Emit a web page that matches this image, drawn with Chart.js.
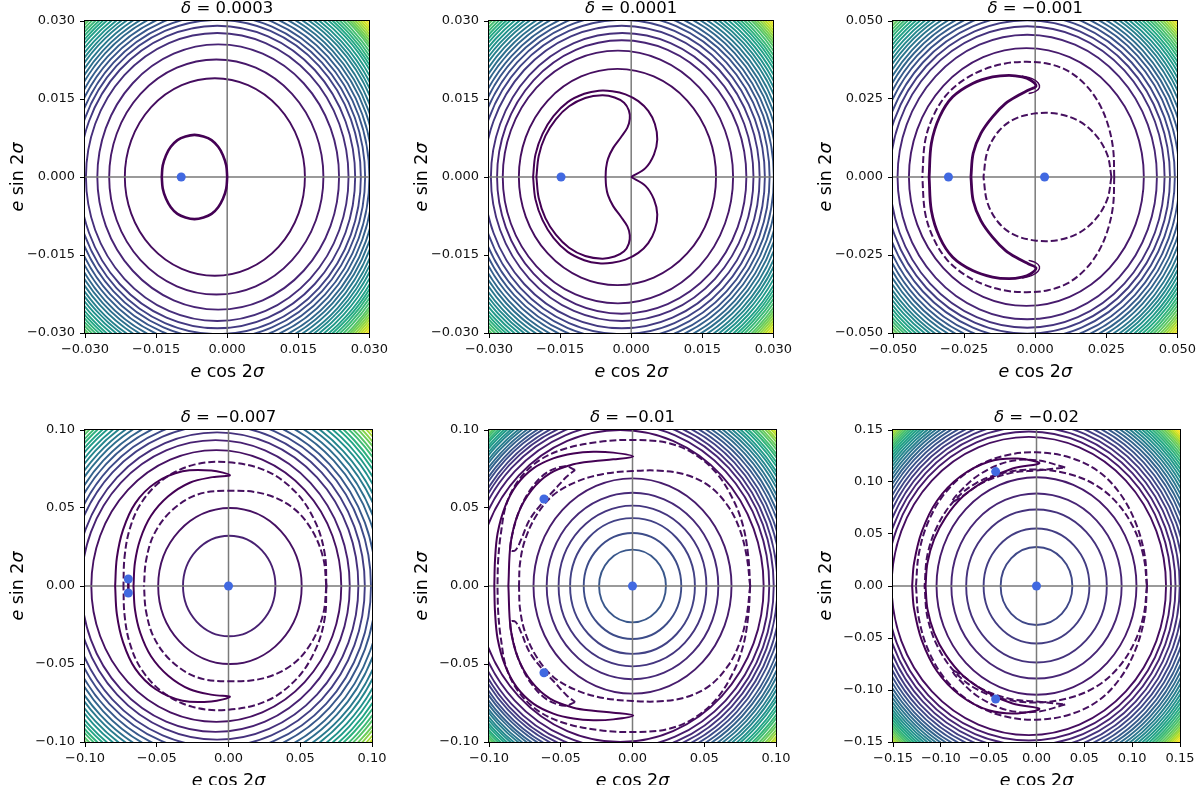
<!DOCTYPE html>
<html>
<head>
<meta charset="utf-8">
<script src="https://cdn.jsdelivr.net/npm/chart.js@4.4.1/dist/chart.umd.min.js"></script>
<style>
  body { margin: 0; background: #fff; width: 1200px; height: 785px; overflow: hidden; position: relative; }
  canvas { position: absolute; }
</style>
</head>
<body>
<canvas id="c1" width="392" height="400" style="left:0px;top:0px"></canvas>
<canvas id="c2" width="392" height="400" style="left:404px;top:0px"></canvas>
<canvas id="c3" width="392" height="400" style="left:808px;top:0px"></canvas>
<canvas id="c4" width="392" height="400" style="left:0px;top:409px"></canvas>
<canvas id="c5" width="392" height="400" style="left:404px;top:409px"></canvas>
<canvas id="c6" width="392" height="400" style="left:808px;top:409px"></canvas>
<script>
// ---- panel titles (delta) and tick values ----
const deltas = [0.0003, 0.0001, -0.001, -0.007, -0.01, -0.02];
const ticksA = [-0.03, -0.015, 0, 0.015, 0.03];
const ticksB = [-0.05, -0.025, 0, 0.025, 0.05];
const ticksC = [-0.1, -0.05, 0, 0.05, 0.1];
const ticksD = [-0.15, -0.1, -0.05, 0, 0.05, 0.1, 0.15];

// ---- contour rings: [centre x, radius], with contour level index ----
const p1Rings = [[-0.0026,0.0190],[-0.0023,0.0226],[-0.0019,0.0255],[-0.0021,0.0277],[-0.0021,0.0291],[-0.002,0.0302],[-0.002,0.0311],[-0.002,0.0320],[-0.002,0.0328],[-0.002,0.0336],[-0.002,0.0343],[-0.002,0.0350],[-0.002,0.0357],[-0.002,0.0363],[-0.002,0.0369],[-0.002,0.0375],[-0.002,0.0381],[-0.002,0.0386],[-0.002,0.0391],[-0.002,0.0396],[-0.002,0.0401],[-0.002,0.0406],[-0.002,0.0410],[-0.002,0.0414],[-0.002,0.0418],[-0.002,0.0422],[-0.002,0.0426],[-0.002,0.0430],[-0.002,0.0434],[-0.002,0.0438]];
const p1Levels = [1,2,3,4,5,6,7,8,9,10,11,12,13,14,15,16,17,18,19,20,21,22,23,24,25,26,27,28,29,30];

const p2Rings = [[-0.0029,0.0208],[-0.0028,0.0243],[-0.002,0.0263],[-0.0019,0.0277],[-0.002,0.0291],[-0.002,0.0302],[-0.002,0.0312],[-0.002,0.0321],[-0.002,0.0329],[-0.002,0.0337],[-0.002,0.0344],[-0.002,0.0351],[-0.002,0.0358],[-0.002,0.0364],[-0.002,0.0370],[-0.002,0.0376],[-0.002,0.0382],[-0.002,0.0387],[-0.002,0.0392],[-0.002,0.0397],[-0.002,0.0402],[-0.002,0.0407],[-0.002,0.0411],[-0.002,0.0415],[-0.002,0.0419],[-0.002,0.0423],[-0.002,0.0427],[-0.002,0.0431],[-0.002,0.0435],[-0.002,0.0439]];
const p2Levels = [1,2,3,4,5,6,7,8,9,10,11,12,13,14,15,16,17,18,19,20,21,22,23,24,25,26,27,28,29,30];

const p3Rings = [[-0.0031,0.0413],[-0.0028,0.0456],[-0.0028,0.0483],[-0.0028,0.0502],[-0.0028,0.0519],[-0.0028,0.0535],[-0.0028,0.0549],[-0.0028,0.0562],[-0.0028,0.0574],[-0.0028,0.0586],[-0.0028,0.0597],[-0.0028,0.0607],[-0.0028,0.0617],[-0.0028,0.0627],[-0.0028,0.0636],[-0.0028,0.0645],[-0.0028,0.0654],[-0.0028,0.0662],[-0.0028,0.0670],[-0.0028,0.0678],[-0.0028,0.0686],[-0.0028,0.0693],[-0.0028,0.0700],[-0.0028,0.0707],[-0.0028,0.0714],[-0.0028,0.0721],[-0.0028,0.0727]];
const p3Levels = [2,3,4,5,6,7,8,9,10,11,12,13,14,15,16,17,18,19,20,21,22,23,24,25,26,27,28];

const p4Rings = [[0.0005,0.0322],[0.001,0.0500],[-0.0085,0.0871],[-0.009,0.0935],[-0.008,0.0985],[-0.008,0.1030],[-0.0075,0.1068],[-0.0075,0.1103],[-0.007,0.1136],[-0.007,0.1167],[-0.0065,0.1196],[-0.0065,0.1223],[-0.006,0.1249],[-0.006,0.1274],[-0.0055,0.1297],[-0.0055,0.1319],[-0.005,0.1340],[-0.005,0.1360],[-0.0045,0.1380],[-0.0045,0.1399],[-0.004,0.1417],[-0.004,0.1435],[-0.0035,0.1452],[-0.0035,0.1469]];
const p4Levels = [2,1,1,2,3,4,5,6,7,8,9,10,11,12,13,14,15,16,17,18,19,20,21,22];

const p5Rings = [[0,0.0233],[0,0.0340],[0,0.0435],[0,0.0515],[0,0.0598],[0,0.0690],[-0.0086,0.1000],[-0.0086,0.1039],[-0.0086,0.1070],[-0.0085,0.1095],[-0.008,0.1118],[-0.008,0.1141],[-0.0075,0.1162],[-0.0075,0.1183],[-0.007,0.1203],[-0.007,0.1222],[-0.0065,0.1240],[-0.0065,0.1258],[-0.006,0.1275],[-0.006,0.1291],[-0.0055,0.1307],[-0.0055,0.1322],[-0.005,0.1337],[-0.005,0.1351],[-0.0045,0.1365],[-0.0045,0.1379],[-0.004,0.1392],[-0.004,0.1405],[-0.0035,0.1417],[-0.0035,0.1429],[-0.003,0.1441],[-0.003,0.1452]];
const p5Levels = [7,6,5,4,3,2,1,2,3,4,5,6,7,8,9,10,11,12,13,14,15,16,17,18,19,20,21,22,23,24,25,26];

const p6Rings = [[0,0.0375],[0,0.0553],[0,0.0735],[0,0.0890],[0,0.1045],[-0.008,0.1434],[-0.008,0.1486],[-0.0078,0.1531],[-0.0076,0.1573],[-0.0074,0.1612],[-0.0072,0.1648],[-0.007,0.1682],[-0.0068,0.1714],[-0.0066,0.1744],[-0.0064,0.1773],[-0.0062,0.1800],[-0.006,0.1826],[-0.0058,0.1851],[-0.0056,0.1875],[-0.0054,0.1898],[-0.0052,0.1920],[-0.005,0.1941],[-0.0048,0.1962],[-0.0046,0.1982],[-0.0044,0.2001],[-0.0042,0.2020],[-0.004,0.2038],[-0.004,0.2056],[-0.004,0.2073],[-0.004,0.2090],[-0.004,0.2106],[-0.004,0.2122],[-0.004,0.2137]];
const p6Levels = [6,5,4,3,2,1,2,3,4,5,6,7,8,9,10,11,12,13,14,15,16,17,18,19,20,21,22,23,24,25,26,27,28];

// ---- separatrices and special curves (upper / lower halves) ----
const p1OvalTop = [[0,0],[-0.0002,0.0022],[-0.0009,0.0042],[-0.0019,0.0058],[-0.0033,0.0071],[-0.0050,0.0078],[-0.0069,0.0081],[-0.0088,0.0078],[-0.0105,0.0071],[-0.0119,0.0058],[-0.0129,0.0042],[-0.0136,0.0022],[-0.0138,0]];
const p1OvalBot = [[0,0],[-0.0002,-0.0022],[-0.0009,-0.0042],[-0.0019,-0.0058],[-0.0033,-0.0071],[-0.0050,-0.0078],[-0.0069,-0.0081],[-0.0088,-0.0078],[-0.0105,-0.0071],[-0.0119,-0.0058],[-0.0129,-0.0042],[-0.0136,-0.0022],[-0.0138,0]];

const p2OuterTop = [[0,0],[0.0030,0.0017],[0.0048,0.0043],[0.0055,0.0072],[0.0050,0.0102],[0.0036,0.0127],[0.0015,0.0146],[-0.0012,0.0159],[-0.0040,0.0165],[-0.0068,0.0166],[-0.0099,0.0160],[-0.0134,0.0144],[-0.0164,0.0117],[-0.0187,0.0083],[-0.0202,0.0043],[-0.0207,0]];
const p2OuterBot = [[0,0],[0.0030,-0.0017],[0.0048,-0.0043],[0.0055,-0.0072],[0.0050,-0.0102],[0.0036,-0.0127],[0.0015,-0.0146],[-0.0012,-0.0159],[-0.0040,-0.0165],[-0.0068,-0.0166],[-0.0099,-0.0160],[-0.0134,-0.0144],[-0.0164,-0.0117],[-0.0187,-0.0083],[-0.0202,-0.0043],[-0.0207,0]];
const p2InnerTop = [[-0.0054,0],[-0.0053,0.0017],[-0.0049,0.0035],[-0.0038,0.0056],[-0.0022,0.0076],[-0.0008,0.0095],[-0.0003,0.0112],[-0.0005,0.0128],[-0.0015,0.0143],[-0.0035,0.0153],[-0.0061,0.0157],[-0.0097,0.0152],[-0.0131,0.0136],[-0.0159,0.0111],[-0.0181,0.0079],[-0.0195,0.0041],[-0.0200,0]];
const p2InnerBot = [[-0.0054,0],[-0.0053,-0.0017],[-0.0049,-0.0035],[-0.0038,-0.0056],[-0.0022,-0.0076],[-0.0008,-0.0095],[-0.0003,-0.0112],[-0.0005,-0.0128],[-0.0015,-0.0143],[-0.0035,-0.0153],[-0.0061,-0.0157],[-0.0097,-0.0152],[-0.0131,-0.0136],[-0.0159,-0.0111],[-0.0181,-0.0079],[-0.0195,-0.0041],[-0.0200,0]];

const p3CrescentTop = [[-0.0373,0],[-0.0365,0.0108],[-0.0336,0.0193],[-0.0290,0.0257],[-0.0220,0.0300],[-0.0150,0.0321],[-0.0092,0.0326],[-0.0046,0.0321],[-0.0017,0.0311],[0.0003,0.0292],[-0.0023,0.0279],[-0.0057,0.0263],[-0.0104,0.0236],[-0.0150,0.0193],[-0.0191,0.0140],[-0.0218,0.0076],[-0.0226,0]];
const p3CrescentBot = [[-0.0373,0],[-0.0365,-0.0108],[-0.0336,-0.0193],[-0.0290,-0.0257],[-0.0220,-0.0300],[-0.0150,-0.0321],[-0.0092,-0.0326],[-0.0046,-0.0321],[-0.0017,-0.0311],[0.0003,-0.0292],[-0.0023,-0.0279],[-0.0057,-0.0263],[-0.0104,-0.0236],[-0.0150,-0.0193],[-0.0191,-0.0140],[-0.0218,-0.0076],[-0.0226,0]];
const p3TipTop = [[-0.0046,0.0324],[-0.0011,0.0315],[0.0010,0.0302],[0.0015,0.0287],[0.0001,0.0274],[-0.0023,0.0267]];
const p3TipBot = [[-0.0046,-0.0324],[-0.0011,-0.0315],[0.0010,-0.0302],[0.0015,-0.0287],[0.0001,-0.0274],[-0.0023,-0.0267]];
const p3DashOuterTop = [[0.0278,0],[0.0274,0.0090],[0.0255,0.0170],[0.0222,0.0240],[0.0175,0.0297],[0.0115,0.0340],[0.0045,0.0363],[-0.0030,0.0369],[-0.0105,0.0364],[-0.0180,0.0345],[-0.0250,0.0312],[-0.0312,0.0263],[-0.0358,0.0196],[-0.0387,0.0115],[-0.0397,0]];
const p3DashOuterBot = [[0.0278,0],[0.0274,-0.0090],[0.0255,-0.0170],[0.0222,-0.0240],[0.0175,-0.0297],[0.0115,-0.0340],[0.0045,-0.0363],[-0.0030,-0.0369],[-0.0105,-0.0364],[-0.0180,-0.0345],[-0.0250,-0.0312],[-0.0312,-0.0263],[-0.0358,-0.0196],[-0.0387,-0.0115],[-0.0397,0]];
const p3DashInnerTop = [[0.0268,0],[0.0254,0.0070],[0.0215,0.0132],[0.0156,0.0178],[0.0082,0.0202],[0.0004,0.0204],[-0.0075,0.0185],[-0.0130,0.0145],[-0.0168,0.0082],[-0.0182,0]];
const p3DashInnerBot = [[0.0268,0],[0.0254,-0.0070],[0.0215,-0.0132],[0.0156,-0.0178],[0.0082,-0.0202],[0.0004,-0.0204],[-0.0075,-0.0185],[-0.0130,-0.0145],[-0.0168,-0.0082],[-0.0182,0]];

const p4CrescentTop = [[-0.0790,0],[-0.0778,0.0180],[-0.0735,0.0360],[-0.0650,0.0530],[-0.0510,0.0660],[-0.0320,0.0735],[-0.0120,0.0740],[0.0010,0.0710],[-0.0110,0.0698],[-0.0270,0.0662],[-0.0420,0.0575],[-0.0540,0.0450],[-0.0615,0.0300],[-0.0652,0.0150],[-0.0662,0]];
const p4CrescentBot = [[-0.0790,0],[-0.0778,-0.0180],[-0.0735,-0.0360],[-0.0650,-0.0530],[-0.0510,-0.0660],[-0.0320,-0.0735],[-0.0120,-0.0740],[0.0010,-0.0710],[-0.0110,-0.0698],[-0.0270,-0.0662],[-0.0420,-0.0575],[-0.0540,-0.0450],[-0.0615,-0.0300],[-0.0652,-0.0150],[-0.0662,0]];
const p4DashOuterTop = [[0.0682,0],[0.0672,0.0200],[0.0610,0.0400],[0.0480,0.0590],[0.0270,0.0735],[0,0.0793],[-0.0250,0.0775],[-0.0460,0.0680],[-0.0610,0.0530],[-0.0690,0.0360],[-0.0725,0.0180],[-0.0732,0]];
const p4DashOuterBot = [[0.0682,0],[0.0672,-0.0200],[0.0610,-0.0400],[0.0480,-0.0590],[0.0270,-0.0735],[0,-0.0793],[-0.0250,-0.0775],[-0.0460,-0.0680],[-0.0610,-0.0530],[-0.0690,-0.0360],[-0.0725,-0.0180],[-0.0732,0]];
const p4DashInnerTop = [[0.0682,0],[0.0660,0.0180],[0.0580,0.0360],[0.0450,0.0500],[0.0250,0.0590],[0,0.0611],[-0.0220,0.0585],[-0.0400,0.0480],[-0.0520,0.0330],[-0.0575,0.0160],[-0.0589,0]];
const p4DashInnerBot = [[0.0682,0],[0.0660,-0.0180],[0.0580,-0.0360],[0.0450,-0.0500],[0.0250,-0.0590],[0,-0.0611],[-0.0220,-0.0585],[-0.0400,-0.0480],[-0.0520,-0.0330],[-0.0575,-0.0160],[-0.0589,0]];
const p4Link = [[-0.0698,0.0045],[-0.0698,-0.0045]];

const p5CrescentTop = [[-0.0963,0],[-0.0958,0.0167],[-0.0940,0.0338],[-0.0888,0.0509],[-0.0807,0.0648],[-0.0691,0.0754],[-0.0552,0.0818],[-0.0412,0.0850],[-0.0273,0.0861],[-0.0134,0.0855],[0.0005,0.0830],[-0.0134,0.0812],[-0.0273,0.0800],[-0.0412,0.0780],[-0.0575,0.0722],[-0.0703,0.0615],[-0.0796,0.0466],[-0.0849,0.0274],[-0.0865,0]];
const p5CrescentBot = [[-0.0963,0],[-0.0958,-0.0167],[-0.0940,-0.0338],[-0.0888,-0.0509],[-0.0807,-0.0648],[-0.0691,-0.0754],[-0.0552,-0.0818],[-0.0412,-0.0850],[-0.0273,-0.0861],[-0.0134,-0.0855],[0.0005,-0.0830],[-0.0134,-0.0812],[-0.0273,-0.0800],[-0.0412,-0.0780],[-0.0575,-0.0722],[-0.0703,-0.0615],[-0.0796,-0.0466],[-0.0849,-0.0274],[-0.0865,0]];
const p5DashOuterTop = [[0.0820,0],[0.0807,0.0188],[0.0772,0.0380],[0.0703,0.0551],[0.0587,0.0722],[0.0424,0.0850],[0.0238,0.0919],[0,0.0936],[-0.0226,0.0925],[-0.0459,0.0883],[-0.0645,0.0808],[-0.0784,0.0690],[-0.0877,0.0530],[-0.0917,0.0338],[-0.0936,0.0167],[-0.0941,0]];
const p5DashOuterBot = [[0.0820,0],[0.0807,-0.0188],[0.0772,-0.0380],[0.0703,-0.0551],[0.0587,-0.0722],[0.0424,-0.0850],[0.0238,-0.0919],[0,-0.0936],[-0.0226,-0.0925],[-0.0459,-0.0883],[-0.0645,-0.0808],[-0.0784,-0.0690],[-0.0877,-0.0530],[-0.0917,-0.0338],[-0.0936,-0.0167],[-0.0941,0]];
const p5DashInnerTop = [[0.0820,0],[0.0796,0.0188],[0.0749,0.0359],[0.0668,0.0509],[0.0540,0.0637],[0.0377,0.0712],[0.0192,0.0739],[0,0.0737],[-0.0203,0.0718],[-0.0389,0.0669],[-0.0552,0.0583],[-0.0668,0.0455],[-0.0749,0.0295],[-0.0784,0.0145],[-0.0791,0]];
const p5DashInnerBot = [[0.0820,0],[0.0796,-0.0188],[0.0749,-0.0359],[0.0668,-0.0509],[0.0540,-0.0637],[0.0377,-0.0712],[0.0192,-0.0739],[0,-0.0737],[-0.0203,-0.0718],[-0.0389,-0.0669],[-0.0552,-0.0583],[-0.0668,-0.0455],[-0.0749,-0.0295],[-0.0784,-0.0145],[-0.0791,0]];
const p5LoopTop = [[-0.0400,0.0744],[-0.0470,0.0768],[-0.0600,0.0725],[-0.0710,0.0620],[-0.0790,0.0480],[-0.0835,0.0340],[-0.0850,0.0230],[-0.0815,0.0230],[-0.0775,0.0300],[-0.0720,0.0420],[-0.0640,0.0520],[-0.0540,0.0620],[-0.0460,0.0700],[-0.0400,0.0744]];
const p5LoopBot = [[-0.0400,-0.0744],[-0.0470,-0.0768],[-0.0600,-0.0725],[-0.0710,-0.0620],[-0.0790,-0.0480],[-0.0835,-0.0340],[-0.0850,-0.0230],[-0.0815,-0.0230],[-0.0775,-0.0300],[-0.0720,-0.0420],[-0.0640,-0.0520],[-0.0540,-0.0620],[-0.0460,-0.0700],[-0.0400,-0.0744]];

const p6CrescentTop = [[-0.1300,0],[-0.1280,0.0220],[-0.1200,0.0520],[-0.1040,0.0820],[-0.0800,0.1050],[-0.0500,0.1195],[-0.0200,0.1225],[0.0030,0.1180],[-0.0250,0.1130],[-0.0520,0.1020],[-0.0770,0.0860],[-0.0950,0.0660],[-0.1070,0.0450],[-0.1140,0.0220],[-0.1160,0]];
const p6CrescentBot = [[-0.1300,0],[-0.1280,-0.0220],[-0.1200,-0.0520],[-0.1040,-0.0820],[-0.0800,-0.1050],[-0.0500,-0.1195],[-0.0200,-0.1225],[0.0030,-0.1180],[-0.0250,-0.1130],[-0.0520,-0.1020],[-0.0770,-0.0860],[-0.0950,-0.0660],[-0.1070,-0.0450],[-0.1140,-0.0220],[-0.1160,0]];
const p6DashATop = [[0.1155,0],[0.1130,0.0300],[0.1040,0.0600],[0.0880,0.0880],[0.0650,0.1100],[0.0350,0.1235],[0,0.1285],[-0.0350,0.1250],[-0.0680,0.1120],[-0.0950,0.0900],[-0.1130,0.0620],[-0.1230,0.0310],[-0.1260,0]];
const p6DashABot = [[0.1155,0],[0.1130,-0.0300],[0.1040,-0.0600],[0.0880,-0.0880],[0.0650,-0.1100],[0.0350,-0.1235],[0,-0.1285],[-0.0350,-0.1250],[-0.0680,-0.1120],[-0.0950,-0.0900],[-0.1130,-0.0620],[-0.1230,-0.0310],[-0.1260,0]];
const p6DashBTop = [[0.1155,0],[0.1120,0.0280],[0.1020,0.0550],[0.0850,0.0790],[0.0620,0.0970],[0.0330,0.1080],[0,0.1120],[-0.0330,0.1090],[-0.0630,0.0990],[-0.0870,0.0810],[-0.1040,0.0570],[-0.1140,0.0300],[-0.1170,0]];
const p6DashBBot = [[0.1155,0],[0.1120,-0.0280],[0.1020,-0.0550],[0.0850,-0.0790],[0.0620,-0.0970],[0.0330,-0.1080],[0,-0.1120],[-0.0330,-0.1090],[-0.0630,-0.0990],[-0.0870,-0.0810],[-0.1040,-0.0570],[-0.1140,-0.0300],[-0.1170,0]];
const p6LoopTop = [[0.0300,0.1140],[0,0.1210],[-0.0300,0.1195],[-0.0600,0.1070],[-0.0830,0.0880],[-0.0880,0.0810],[-0.0780,0.0860],[-0.0550,0.1000],[-0.0250,0.1090],[0,0.1110],[0.0300,0.1140]];
const p6LoopBot = [[0.0300,-0.1140],[0,-0.1210],[-0.0300,-0.1195],[-0.0600,-0.1070],[-0.0830,-0.0880],[-0.0880,-0.0810],[-0.0780,-0.0860],[-0.0550,-0.1000],[-0.0250,-0.1090],[0,-0.1110],[0.0300,-0.1140]];

// ---- equilibrium points ----
const p1Dots = [[-0.0097,0]];
const p2Dots = [[-0.0148,0]];
const p3Dots = [[-0.0305,0],[0.0033,0]];
const p4Dots = [[-0.0698,0.0045],[-0.0698,-0.0045],[0,0]];
const p5Dots = [[-0.0617,0.0558],[-0.0617,-0.0556],[0,0]];
const p6Dots = [[-0.0427,0.1100],[-0.0427,-0.1087],[0,0]];

// viridis colour map
const VIRIDIS = ['#440154','#482475','#414487','#355f8d','#2a788e','#21918c','#22a884','#44bf70','#7ad151','#bddf26','#fde725'];
function viridis(t) {
    t = Math.max(0, Math.min(1, t));
    const f = t * (VIRIDIS.length - 1);
    const i = Math.min(Math.floor(f), VIRIDIS.length - 2);
    const u = f - i;
    const a = VIRIDIS[i], b = VIRIDIS[i + 1];
    const c = [1, 3, 5].map(k => {
        const va = parseInt(a.substr(k, 2), 16), vb = parseInt(b.substr(k, 2), 16);
        return Math.round(va + (vb - va) * u);
    });
    return 'rgb(' + c.join(',') + ')';
}

function fmtTick(v, dec) {
    return (v < -1e-12 ? '\u2212' : '') + Math.abs(v).toFixed(dec);
}

// draw a run of text pieces, some italic (mathtext look)
function drawMath(ctx, parts, size, x, y) {
    let total = 0;
    parts.forEach(p => {
        ctx.font = (p[1] ? 'italic ' : '') + size + 'px "DejaVu Sans"';
        p.w = ctx.measureText(p[0]).width;
        total += p.w;
    });
    let cur = x - total / 2;
    parts.forEach(p => {
        ctx.font = (p[1] ? 'italic ' : '') + size + 'px "DejaVu Sans"';
        ctx.fillText(p[0], cur, y);
        cur += p.w;
    });
}

const SEP = '#440154';
const DASHC = '#46105f';

const panels = [
    { el: 'c1', lim: 0.03, ticks: ticksA, dec: 3, rings: p1Rings, levels: p1Levels, dots: p1Dots,
      curves: [ { pts: p1OvalTop, w: 2.6 }, { pts: p1OvalBot, w: 2.6 } ] },
    { el: 'c2', lim: 0.03, ticks: ticksA, dec: 3, rings: p2Rings, levels: p2Levels, dots: p2Dots,
      curves: [ { pts: p2OuterTop, w: 2 }, { pts: p2OuterBot, w: 2 }, { pts: p2InnerTop, w: 2 }, { pts: p2InnerBot, w: 2 } ] },
    { el: 'c3', lim: 0.05, ticks: ticksB, dec: 3, rings: p3Rings, levels: p3Levels, dots: p3Dots,
      curves: [ { pts: p3CrescentTop, w: 2.8 }, { pts: p3CrescentBot, w: 2.8 }, { pts: p3TipTop, w: 1.4 }, { pts: p3TipBot, w: 1.4 },
                { pts: p3DashOuterTop, w: 2, dash: true }, { pts: p3DashOuterBot, w: 2, dash: true },
                { pts: p3DashInnerTop, w: 2, dash: true }, { pts: p3DashInnerBot, w: 2, dash: true } ] },
    { el: 'c4', lim: 0.1, ticks: ticksC, dec: 2, rings: p4Rings, levels: p4Levels, dots: p4Dots,
      curves: [ { pts: p4CrescentTop, w: 2 }, { pts: p4CrescentBot, w: 2 }, { pts: p4Link, w: 2.5 },
                { pts: p4DashOuterTop, w: 2, dash: true }, { pts: p4DashOuterBot, w: 2, dash: true },
                { pts: p4DashInnerTop, w: 2, dash: true }, { pts: p4DashInnerBot, w: 2, dash: true } ] },
    { el: 'c5', lim: 0.1, ticks: ticksC, dec: 2, rings: p5Rings, levels: p5Levels, dots: p5Dots,
      curves: [ { pts: p5CrescentTop, w: 2 }, { pts: p5CrescentBot, w: 2 },
                { pts: p5DashOuterTop, w: 2, dash: true }, { pts: p5DashOuterBot, w: 2, dash: true },
                { pts: p5DashInnerTop, w: 2, dash: true }, { pts: p5DashInnerBot, w: 2, dash: true },
                { pts: p5LoopTop, w: 2, dash: true }, { pts: p5LoopBot, w: 2, dash: true } ] },
    { el: 'c6', lim: 0.15, ticks: ticksD, dec: 2, rings: p6Rings, levels: p6Levels, dots: p6Dots,
      curves: [ { pts: p6CrescentTop, w: 2 }, { pts: p6CrescentBot, w: 2 },
                { pts: p6DashATop, w: 2, dash: true }, { pts: p6DashABot, w: 2, dash: true },
                { pts: p6DashBTop, w: 2, dash: true }, { pts: p6DashBBot, w: 2, dash: true },
                { pts: p6LoopTop, w: 2, dash: true }, { pts: p6LoopBot, w: 2, dash: true } ] }
];

// per-panel plugin: contour rings, zero lines, frame and math labels
function panelPlugin(def, delta) {
    const maxLevel = Math.max.apply(null, def.levels);
    return {
        id: 'panel_' + def.el,
        beforeDatasetsDraw(chart) {
            const { ctx, chartArea: a, scales: { x, y } } = chart;
            ctx.save();
            ctx.beginPath();
            ctx.rect(a.left, a.top, a.right - a.left, a.bottom - a.top);
            ctx.clip();
            ctx.lineWidth = 1.9;
            def.rings.forEach((ring, i) => {
                const cx = x.getPixelForValue(ring[0]);
                const cy = y.getPixelForValue(0);
                const rx = x.getPixelForValue(ring[0] + ring[1]) - cx;
                const ry = cy - y.getPixelForValue(ring[1]);
                ctx.strokeStyle = viridis(def.levels[i] / maxLevel);
                ctx.beginPath();
                ctx.ellipse(cx, cy, rx, ry, 0, 0, Math.PI * 2);
                ctx.stroke();
            });
            // grey lines through the origin
            const x0 = x.getPixelForValue(0), y0 = y.getPixelForValue(0);
            ctx.strokeStyle = '#7a7a7a';
            ctx.lineWidth = 1.5;
            ctx.beginPath();
            ctx.moveTo(x0, a.top); ctx.lineTo(x0, a.bottom);
            ctx.moveTo(a.left, y0); ctx.lineTo(a.right, y0);
            ctx.stroke();
            ctx.restore();
        },
        afterDatasetsDraw(chart) {
            const { ctx, chartArea: a } = chart;
            ctx.save();
            ctx.strokeStyle = '#000';
            ctx.lineWidth = 1;
            ctx.strokeRect(Math.round(a.left) - 0.5, Math.round(a.top) - 0.5, Math.round(a.right - a.left) + 1, Math.round(a.bottom - a.top) + 1);
            ctx.restore();
        },
        afterDraw(chart) {
            const { ctx, chartArea: a } = chart;
            const mid = (a.left + a.right) / 2;
            ctx.save();
            ctx.fillStyle = '#000';
            ctx.textBaseline = 'alphabetic';
            drawMath(ctx, [['\u03b4', true], [' = ' + String(delta).replace('-', '\u2212'), false]], 16.5, mid, a.top - 8);
            drawMath(ctx, [['e', true], [' cos 2', false], ['\u03c3', true]], 17.5, mid, a.bottom + 44);
            ctx.translate(a.left - 62, (a.top + a.bottom) / 2);
            ctx.rotate(-Math.PI / 2);
            drawMath(ctx, [['e', true], [' sin 2', false], ['\u03c3', true]], 17.5, 0, 0);
            ctx.restore();
        }
    };
}

function toXY(pts) {
    return pts.map(p => ({ x: p[0], y: p[1] }));
}

function axisOptions(def, isX) {
    return {
        type: 'linear',
        position: isX ? 'bottom' : 'left',
        min: -def.lim,
        max: def.lim,
        afterBuildTicks: scale => { scale.ticks = def.ticks.map(v => ({ value: v })); },
        afterFit: scale => { if (isX) scale.height = 67; else scale.width = 85; },
        ticks: {
            autoSkip: false,
            maxRotation: 0,
            padding: isX ? 4 : 5,
            color: '#111',
            font: { family: 'DejaVu Sans', size: 13 },
            callback: v => fmtTick(v, def.dec)
        },
        grid: { drawOnChartArea: false, drawTicks: true, tickLength: 5, tickColor: '#000', tickWidth: 1 },
        border: { display: false }
    };
}

panels.forEach((def, k) => {
    const datasets = [];
    // equilibrium points on top
    datasets.push({
        data: toXY(def.dots),
        pointRadius: 4.5,
        pointBackgroundColor: '#4169e1',
        pointBorderWidth: 0,
        showLine: false
    });
    def.curves.forEach(c => {
        datasets.push({
            data: toXY(c.pts),
            showLine: true,
            pointRadius: 0,
            borderColor: c.dash ? DASHC : SEP,
            borderWidth: c.w,
            borderDash: c.dash ? [7, 3] : [],
            tension: 0.35,
            fill: false
        });
    });

    new Chart(document.getElementById(def.el), {
        type: 'scatter',
        data: { datasets: datasets },
        options: {
            responsive: false,
            animation: false,
            devicePixelRatio: 1,
            layout: { padding: { left: 0, right: 20, top: 21, bottom: 0 } },
            plugins: { legend: { display: false }, tooltip: { enabled: false }, title: { display: false } },
            scales: { x: axisOptions(def, true), y: axisOptions(def, false) }
        },
        plugins: [panelPlugin(def, deltas[k])]
    });
});
</script>
</body>
</html>
